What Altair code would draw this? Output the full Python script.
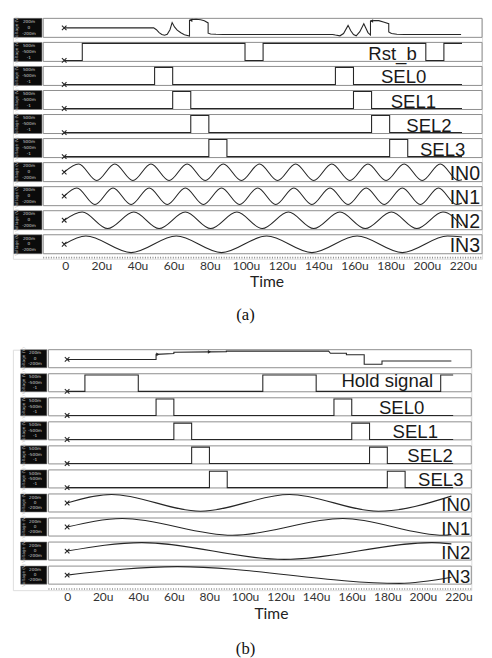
import altair as alt
import pandas as pd

# ======================= DATA (times in microseconds) =======================
TIME_TICKS = [0, 20, 40, 60, 80, 100, 120, 140, 160, 180, 200, 220]

# ---------------- panel (a) ----------------
A_NAMES = ["", "Rst_b", "SEL0", "SEL1", "SEL2", "SEL3", "IN0", "IN1", "IN2", "IN3"]
A_SCALE_TXT = [["200m", "0", "-200m"]] + [["500m", "-500m", "-1"]] * 5 + [["200m", "0", "-200m"]] * 4

# top (unlabelled) trace of (a): time / level inside its strip (0 = bottom, 1 = top)
A_TOP_T = [0, 49.5, 51, 52.5, 54, 55.5, 57, 58.5, 59.7, 61, 62.5, 64.5, 66.5, 69.3, 69.3, 71, 73, 75.5, 77.5, 79.6, 79.6, 81, 84, 88,
           148.5, 150, 152.5, 154.5, 157, 158.5, 160, 161.5, 163.5, 165.7, 167, 168, 169.4, 169.4, 171.6, 174, 177, 179.5, 179.5, 181, 184, 188, 219.5]
A_TOP_V = [0.5, 0.5, 0.4, 0.25, 0.15, 0.11, 0.16, 0.4, 0.78, 0.55, 0.38, 0.24, 0.14, 0.07, 0.9, 0.94, 0.95, 0.93, 0.87, 0.76, 0.22, 0.18, 0.16, 0.15,
           0.15, 0.12, 0.08, 0.2, 0.63, 0.35, 0.15, 0.08, 0.3, 0.72, 0.45, 0.25, 0.12, 0.86, 0.89, 0.88, 0.8, 0.72, 0.28, 0.2, 0.16, 0.15, 0.15]
A_TOP_MARK_T = [70, 170]
A_TOP_MARK_V = [0.9, 0.86]

# digital signals: times of each edge (all start low)
A_RST_EDGES = [10, 100, 110, 200, 210]
SEL0_EDGES = [50, 60, 150, 160]
SEL1_EDGES = [60, 70, 160, 170]
SEL2_EDGES = [70, 80, 170, 180]
SEL3_EDGES = [80, 90, 180, 190]
A_END = 220

# sine inputs of (a): times of maxima / minima, level at the end of the trace
A_IN0_PEAKS = [8, 28, 48, 68, 88, 108, 128, 148, 168, 188, 208]
A_IN0_TROUGHS = [18, 38, 58, 78, 98, 118, 138, 158, 178, 198, 218]
A_IN1_PEAKS = [7, 27, 47, 67, 87, 107, 127, 147, 167, 187, 207]
A_IN1_TROUGHS = [17, 37, 57, 77, 97, 117, 137, 157, 177, 197, 217]
A_IN2_PEAKS = [10, 38.5, 67, 95.5, 124, 152.5, 181, 209.5]
A_IN2_TROUGHS = [24, 52.5, 81, 109.5, 138, 166.5, 195]
A_IN3_PEAKS = [12, 62, 112, 162, 212]
A_IN3_TROUGHS = [37, 87, 137, 187]
A_IN_END_V = [0.1, 0.14, 0.2, 0.88]

# ---------------- panel (b) ----------------
B_NAMES = ["", "Hold signal", "SEL0", "SEL1", "SEL2", "SEL3", "IN0", "IN1", "IN2", "IN3"]
B_SCALE_TXT = A_SCALE_TXT

B_TOP_T = [0, 50, 50, 60, 60, 80, 89.5, 89.5, 147, 148, 157, 157, 167, 167, 177, 177, 216]
B_TOP_V = [0.46, 0.46, 0.74, 0.79, 0.86, 0.88, 0.89, 0.92, 0.92, 0.8, 0.8, 0.72, 0.72, 0.19, 0.19, 0.37, 0.37]
B_TOP_MARK_T = [51, 80]
B_TOP_MARK_V = [0.74, 0.88]

B_HOLD_EDGES = [10, 40, 110, 140, 210]
B_END = 217

B_IN0_PEAKS = [25, 125]
B_IN0_TROUGHS = [75, 175]
B_IN1_PEAKS = [31, 155]
B_IN1_TROUGHS = [93, 212]
B_IN2_PEAKS = [42, 205]
B_IN2_TROUGHS = [122]
B_IN3_PEAKS = [62]
B_IN3_TROUGHS = [187]
B_IN_END_V = [0.88, 0.08, 0.9, 0.38]

# ======================= LAYOUT / STYLE =======================
A_LAYOUT = dict(width=480, domain=[-28.38, 231.1], box=0.79, bb=[-27.8, -12.3], left=-11.6,
                txt_x=-19.5, volt_x=-26.3, low=0.05, high=0.95, wave_hi=0.93, wave_lo=0.06,
                label_x=[None, 195, 200.3, 205.7, 214.3, 221.9, 230, 230, 230, 230],
                label_dy=[0, -1, -2, -2, -2, -2, -1.5, -1.5, -1.5, -1.5],
                label_fs=[19, 19, 19, 19, 19, 19, 20, 20, 20, 20],
                caption="(a)", caption_y=12.34, title_x=259.5, title_y=28, label_pad=10.5, label_off=1,
                marker="triangle-left", end=A_END, wave_end=220)
B_LAYOUT = dict(width=469, domain=[-30.49, 227.2], box=0.75, bb=[-26.1, -11.4], left=-10.5,
                txt_x=-18.0, volt_x=-24.3, low=0.02, high=0.93, wave_hi=0.97, wave_lo=0.04,
                label_x=[None, 205.8, 200.8, 208.5, 216.8, 222.8, 226.6, 226.6, 226.6, 226.6],
                label_dy=[0, -4.5, -2, -2, -2, -2, -1.5, -1.5, -1.5, -1.5],
                label_fs=[19] * 10,
                caption="(b)", caption_y=12.44, title_x=264, title_y=29.5, label_pad=11, label_off=0,
                marker="triangle-right", end=B_END, wave_end=216)

LINE_COLOR = "#262626"
BOX_STROKE = "#8c8c8c"


def step_points(edges, end, low, high):
    ts, vs = [0], [low]
    level = low
    for e in edges:
        level = high if level == low else low
        ts.append(e)
        vs.append(level)
    ts.append(end)
    vs.append(level)
    return ts, vs


def wave_points(peaks, troughs, end_t, end_v, hi, lo):
    pts = [(0, 0.5)] + [(p, hi) for p in peaks] + [(q, lo) for q in troughs]
    pts.sort()
    pts.append((end_t, end_v))
    return [p[0] for p in pts], [p[1] for p in pts]


def build_panel(L, names, scale_txt, top_t, top_v, mark_t, mark_v, first_edges, sines, end_vs):
    box = L["box"]

    def ypos(row, v):
        return row + box * (1 - v)

    xs = alt.Scale(domain=L["domain"], nice=False, zero=False)
    ys = alt.Scale(domain=[0, 10], reverse=True, nice=False, zero=False)
    axis = alt.Axis(values=TIME_TICKS, labelExpr="datum.value == 0 ? '0' : datum.value + 'u'",
                    domain=False, ticks=False, tickSize=0, grid=False, labelFlush=False,
                    labelFont="Lato", labelFontSize=12.3, labelColor="#333333",
                    labelBaseline="alphabetic", labelPadding=L["label_pad"], labelOffset=L["label_off"],
                    title="Time", titleFont="Lato", titleFontSize=16, titleFontWeight="normal",
                    titleColor="#222222", titleX=L["title_x"], titleY=L["title_y"],
                    titleBaseline="alphabetic", titleAlign="center")

    def X(f):
        return alt.X(f"{f}:Q", scale=xs, axis=axis)

    def Y(f):
        return alt.Y(f"{f}:Q", scale=ys, axis=None)

    # strip frames
    frames = pd.DataFrame({"r": list(range(10))})
    frames["y1"] = frames["r"]
    frames["y2"] = frames["r"] + box
    frames["x1"] = L["left"]
    frames["x2"] = L["domain"][1]
    frames["b1"] = L["bb"][0]
    frames["b2"] = L["bb"][1]

    boxes = alt.Chart(frames).mark_rect(fill="white", stroke=BOX_STROKE, strokeWidth=1).encode(
        x=X("x1"), x2="x2:Q", y=Y("y1"), y2="y2:Q")
    black = alt.Chart(frames).mark_rect(fill="#0b0b0b", stroke="#777777", strokeWidth=0.6).encode(
        x=X("b1"), x2="b2:Q", y=Y("y1"), y2="y2:Q")

    # tiny voltage labels inside the black boxes
    rows = []
    for r in range(10):
        for k, txt in enumerate(scale_txt[r]):
            rows.append({"t": L["txt_x"], "y": r + box * (0.2 + 0.3 * k), "s": txt})
    tiny = alt.Chart(pd.DataFrame(rows)).mark_text(fontSize=4.3, color="#d0d0d0", font="DejaVu Sans").encode(
        x=X("t"), y=Y("y"), text="s:N")
    volt = alt.Chart(pd.DataFrame({"t": [L["volt_x"]] * 10, "y": [r + box / 2 for r in range(10)],
                                   "s": ["Voltage (V)"] * 10})).mark_text(
        fontSize=4.3, color="#bdbdbd", angle=270, font="DejaVu Sans").encode(x=X("t"), y=Y("y"), text="s:N")

    # dotted time axis line
    axis_line = alt.Chart(pd.DataFrame({"x1": [L["left"]], "x2": [L["domain"][1]], "y": [9.95]})).mark_rule(
        color="#8a8a8a", strokeDash=[1, 1.6], strokeWidth=1.6).encode(x=X("x1"), x2="x2:Q", y=Y("y"))

    # top trace
    top_df = pd.DataFrame({"t": top_t, "y": [ypos(0, v) for v in top_v], "i": list(range(len(top_t)))})
    top = alt.Chart(top_df).mark_line(color=LINE_COLOR, strokeWidth=1.1, interpolate="linear").encode(
        x=X("t"), y=Y("y"), order="i:Q")
    mk = alt.Chart(pd.DataFrame({"t": mark_t, "y": [ypos(0, v) for v in mark_v]})).mark_point(
        shape=L["marker"], filled=True, size=14, color=LINE_COLOR, opacity=1).encode(x=X("t"), y=Y("y"))

    # digital rows
    dig = []
    all_edges = [first_edges, SEL0_EDGES, SEL1_EDGES, SEL2_EDGES, SEL3_EDGES]
    for k, edges in enumerate(all_edges):
        ts, vs = step_points(edges, L["end"], L["low"], L["high"])
        for i, (t, v) in enumerate(zip(ts, vs)):
            dig.append({"s": f"d{k}", "t": t, "y": ypos(k + 1, v), "i": i})
    digital = alt.Chart(pd.DataFrame(dig)).mark_line(color=LINE_COLOR, strokeWidth=1.1,
                                                     interpolate="step-after").encode(
        x=X("t"), y=Y("y"), detail="s:N", order="i:Q")

    # sine rows
    wav = []
    for k, (pk, tr) in enumerate(sines):
        ts, vs = wave_points(pk, tr, L["wave_end"], end_vs[k], L["wave_hi"], L["wave_lo"])
        for i, (t, v) in enumerate(zip(ts, vs)):
            wav.append({"s": f"w{k}", "t": t, "y": ypos(k + 6, v), "i": i})
    waves = alt.Chart(pd.DataFrame(wav)).mark_line(color=LINE_COLOR, strokeWidth=1.1,
                                                   interpolate="monotone").encode(
        x=X("t"), y=Y("y"), detail="s:N", order="i:Q")

    # start markers (x) at t = 0
    starts = [{"t": 0, "y": ypos(0, top_v[0])}]
    for k in range(5):
        starts.append({"t": 0, "y": ypos(k + 1, L["low"])})
    for k in range(4):
        starts.append({"t": 0, "y": ypos(k + 6, 0.5)})
    xmark = alt.Chart(pd.DataFrame(starts)).mark_point(
        shape="M-1,-1L1,1M-1,1L1,-1", filled=False, size=22, strokeWidth=1.1, color=LINE_COLOR, opacity=1).encode(
        x=X("t"), y=Y("y"))

    # signal names
    lab = []
    for r in range(1, 10):
        lab.append({"t": L["label_x"][r], "y": r + box, "s": names[r], "dy": L["label_dy"][r],
                    "fs": L["label_fs"][r]})
    lab_df = pd.DataFrame(lab)
    labels = []
    for (dy, fs), sub in lab_df.groupby(["dy", "fs"]):
        labels.append(alt.Chart(sub).mark_text(align="right", baseline="alphabetic", dy=float(dy),
                                               fontSize=float(fs), font="Liberation Sans",
                                               color="#1a1a1a").encode(
            x=X("t"), y=Y("y"), text="s:N"))

    caption = alt.Chart(pd.DataFrame({"t": [100.3], "y": [L["caption_y"]], "s": [L["caption"]]})).mark_text(
        font="Liberation Serif", fontSize=17, baseline="middle", color="#111111").encode(
        x=X("t"), y=Y("y"), text="s:N")

    layers = [boxes, black, tiny, volt, axis_line, digital, waves, top, mk, xmark] + labels + [caption]
    return alt.layer(*layers).properties(width=L["width"], height=246)


panel_a = build_panel(A_LAYOUT, A_NAMES, A_SCALE_TXT, A_TOP_T, A_TOP_V, A_TOP_MARK_T, A_TOP_MARK_V,
                      A_RST_EDGES,
                      [(A_IN0_PEAKS, A_IN0_TROUGHS), (A_IN1_PEAKS, A_IN1_TROUGHS),
                       (A_IN2_PEAKS, A_IN2_TROUGHS), (A_IN3_PEAKS, A_IN3_TROUGHS)], A_IN_END_V)
panel_b = build_panel(B_LAYOUT, B_NAMES, B_SCALE_TXT, B_TOP_T, B_TOP_V, B_TOP_MARK_T, B_TOP_MARK_V,
                      B_HOLD_EDGES,
                      [(B_IN0_PEAKS, B_IN0_TROUGHS), (B_IN1_PEAKS, B_IN1_TROUGHS),
                       (B_IN2_PEAKS, B_IN2_TROUGHS), (B_IN3_PEAKS, B_IN3_TROUGHS)], B_IN_END_V)

chart = alt.vconcat(panel_a, panel_b, spacing=22).properties(
    padding={"left": 4, "top": 0, "right": 0, "bottom": 0}
).configure_view(stroke=None).configure(background="white")

chart.save("out.html", embed_options={"renderer": "svg", "actions": False})
